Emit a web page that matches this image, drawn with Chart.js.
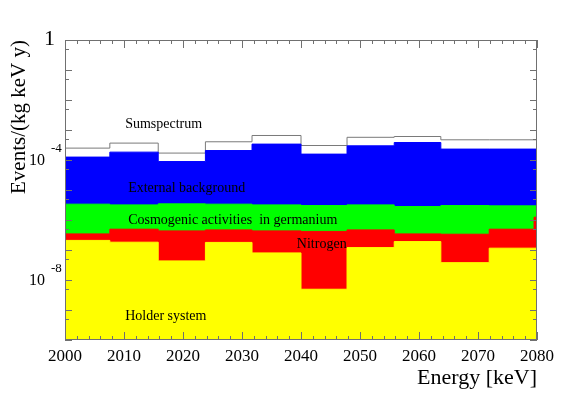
<!DOCTYPE html>
<html>
<head>
<meta charset="utf-8">
<script src="https://cdn.jsdelivr.net/npm/chart.js@4.4.0/dist/chart.umd.min.js"></script>
<style>
  html, body { margin: 0; padding: 0; background: #fff; }
</style>
</head>
<body>
<canvas id="grafico" width="581" height="401"></canvas>
<script>
// bin edges (keV)
const binEdges = [2000, 2007.6, 2015.8, 2023.8, 2031.7, 2040, 2047.8, 2055.8, 2063.7, 2071.9, 2080];

// counts per bin, events/(kg keV y)
const sumSpectrum  = [2.49e-4, 3.66e-4, 1.70e-4, 4.05e-4, 6.56e-4, 3.04e-4, 5.71e-4, 6.07e-4, 4.71e-4, 4.71e-4];
const externalBg   = [1.25e-4, 1.83e-4, 8.9e-5, 2.07e-4, 3.39e-4, 1.57e-4, 2.97e-4, 3.83e-4, 2.31e-4, 2.31e-4];
const cosmogenic   = [3.37e-6, 3.19e-6, 3.45e-6, 3.37e-6, 3.19e-6, 3.03e-6, 3.19e-6, 2.81e-6, 3.03e-6, 2.96e-6];
const holderSystem = [2.09e-7, 1.82e-7, 4.33e-8, 1.79e-7, 8.0e-8, 4.92e-9, 1.20e-7, 1.91e-7, 3.79e-8, 1.15e-7];

// nitrogen has one extra narrow bin at the top end
const nitrogenEdges = [2000, 2007.6, 2015.8, 2023.8, 2031.7, 2040, 2047.8, 2055.8, 2063.7, 2071.9, 2079.5, 2080];
const nitrogen      = [3.44e-7, 4.94e-7, 4.34e-7, 4.68e-7, 4.34e-7, 4.17e-7, 4.68e-7, 3.44e-7, 3.36e-7, 4.94e-7, 1.24e-6];

// y axis labels
const yLabelValues = [1, 1e-4, 1e-8];
const yLabelExp = ['', '-4', '-8'];

// text inside the plot
const noteText = ['Sumspectrum', 'External background', 'Cosmogenic activities  in germanium', 'Nitrogen', 'Holder system'];
const noteX = [2010.2, 2010.7, 2010.7, 2039.3, 2010.2];
const noteY = [1.49e-3, 1.18e-5, 1.01e-6, 1.6e-7, 6.3e-10];

const SERIF = '"Liberation Serif", "DejaVu Serif", serif';

function histo(edges, values) {
  const pts = values.map((v, i) => ({ x: edges[i], y: v }));
  pts.push({ x: edges[edges.length - 1], y: values[values.length - 1] });
  return pts;
}

function histDataset(label, edges, values, fillCol, lineCol) {
  return {
    label,
    data: histo(edges, values),
    stepped: true,
    fill: 'start',
    backgroundColor: fillCol,
    borderColor: lineCol,
    borderWidth: 1,
    pointRadius: 0
  };
}

const moldura = {
  id: 'moldura',
  afterDraw(chart) {
    const { ctx, chartArea: a, scales: { x, y } } = chart;
    ctx.save();
    ctx.strokeStyle = '#707070';
    ctx.lineWidth = 1;
    ctx.beginPath();
    for (let e = 2000; e <= 2080; e += 2) {
      const px = Math.round(x.getPixelForValue(e)) + 0.5;
      const len = e % 10 === 0 ? 8 : 4;
      ctx.moveTo(px, a.bottom); ctx.lineTo(px, a.bottom - len);
      ctx.moveTo(px, a.top); ctx.lineTo(px, a.top + len);
    }
    for (let k = 0; k <= 10; k++) {
      const py = Math.round(y.getPixelForValue(Math.pow(10, -k))) + 0.5;
      ctx.moveTo(a.left, py); ctx.lineTo(a.left + 7, py);
      ctx.moveTo(a.right, py); ctx.lineTo(a.right - 7, py);
      if (k < 10) {
        const ph = Math.round(y.getPixelForValue(5 * Math.pow(10, -k - 1))) + 0.5;
        ctx.moveTo(a.left, ph); ctx.lineTo(a.left + 4, ph);
        ctx.moveTo(a.right, ph); ctx.lineTo(a.right - 4, ph);
      }
    }
    ctx.stroke();
    ctx.strokeRect(Math.round(a.left) + 0.5, Math.round(a.top) + 0.5,
      Math.round(a.right - a.left) - 1, Math.round(a.bottom - a.top) - 1);

    ctx.fillStyle = '#000';
    ctx.textBaseline = 'middle';
    yLabelValues.forEach((v, i) => {
      const py = y.getPixelForValue(v);
      if (!yLabelExp[i]) {
        ctx.font = '22px ' + SERIF;
        ctx.textAlign = 'right';
        ctx.fillText('1', a.left - 10, py - 1);
      } else {
        ctx.font = '16px ' + SERIF;
        ctx.textAlign = 'right';
        ctx.fillText('10', a.left - 20, py + 1);
        ctx.font = '13px ' + SERIF;
        ctx.textAlign = 'left';
        ctx.fillText(yLabelExp[i], a.left - 14, py - 11);
      }
    });

    ctx.font = '14px ' + SERIF;
    ctx.textAlign = 'left';
    noteText.forEach((t, i) => {
      ctx.fillText(t, x.getPixelForValue(noteX[i]), y.getPixelForValue(noteY[i]));
    });
    ctx.restore();
  }
};

new Chart(document.getElementById('grafico').getContext('2d'), {
  type: 'line',
  data: {
    datasets: [
      histDataset('Holder system', binEdges, holderSystem, '#ffff00', '#ffff00'),
      histDataset('Nitrogen', nitrogenEdges, nitrogen, '#ff0000', '#ff0000'),
      histDataset('Cosmogenic activities in germanium', binEdges, cosmogenic, '#00ff00', '#00ff00'),
      histDataset('External background', binEdges, externalBg, '#0000ff', '#0000ff'),
      histDataset('Sumspectrum', binEdges, sumSpectrum, '#ffffff', '#7a7a7a')
    ]
  },
  options: {
    responsive: false,
    animation: false,
    layout: { padding: { left: 0, right: 44, top: 40, bottom: 0 } },
    plugins: {
      legend: { display: false },
      tooltip: { enabled: false }
    },
    scales: {
      x: {
        type: 'linear',
        min: 2000,
        max: 2080,
        grid: { display: false, drawTicks: false },
        border: { display: false },
        ticks: {
          stepSize: 10,
          padding: 6,
          color: '#000',
          font: { family: SERIF, size: 17 },
          callback: v => String(v)
        },
        title: {
          display: true,
          text: 'Energy [keV]',
          align: 'end',
          color: '#000',
          font: { family: SERIF, size: 22 },
          padding: { top: 0, bottom: 10 }
        },
        afterFit: s => { s.height = 61; }
      },
      y: {
        type: 'logarithmic',
        min: 1e-10,
        max: 1,
        grid: { display: false, drawTicks: false },
        border: { display: false },
        ticks: { display: false },
        title: {
          display: true,
          text: 'Events/(kg keV y)',
          align: 'end',
          color: '#000',
          font: { family: SERIF, size: 21 },
          padding: { top: 7, bottom: 0 }
        },
        afterFit: s => { s.width = 65; }
      }
    }
  },
  plugins: [moldura]
});
</script>
</body>
</html>
